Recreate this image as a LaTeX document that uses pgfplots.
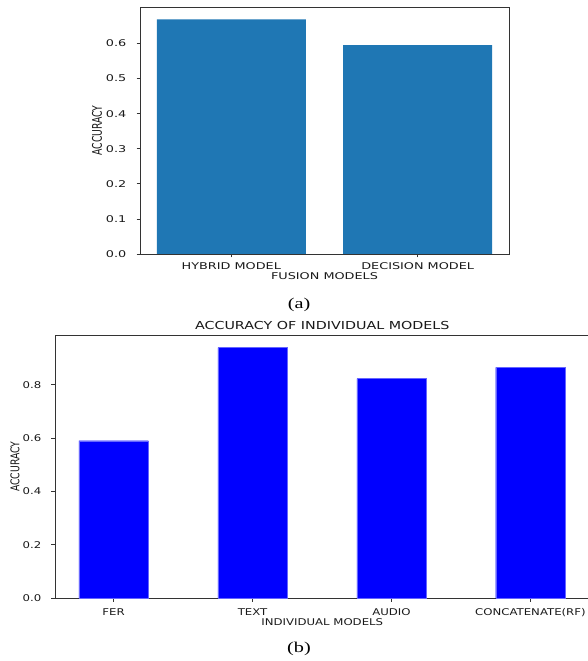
\documentclass[border=0pt]{standalone}
\usepackage{pgfplots}
\pgfplotsset{compat=1.18}
\usepackage{fontspec}
\setmainfont{DejaVu Sans}
\newfontfamily\capfont{Liberation Serif}
\usepackage{graphicx}
\definecolor{mplblue}{HTML}{1F77B4}
\pgfplotsset{
  /pgf/number format/assume math mode=true,
  base/.style={
    scale only axis, anchor=south west,
    axis line style={black!80, line width=0.8pt},
    tick style={black!80, line width=0.8pt},
    tick align=outside, major tick length=3.5pt,
    xtick pos=bottom, ytick pos=left,
    minor tick num=0,
    ymin=0,
    tick label style={font=\fontsize{9.3}{10}\selectfont, text=black!90, inner sep=0pt},
    label style={font=\fontsize{9.3}{10}\selectfont, text=black!90, inner sep=0pt},
    xticklabel style={anchor=center},
    yticklabel style={anchor=east},
  }
}
\begin{document}
\begin{tikzpicture}[x=1pt,y=1pt]
\useasboundingbox (0,0) rectangle (587,661);
% ---------- (a) ----------
\begin{axis}[base,
  at={(140pt,407pt)}, width=369pt, height=247pt,
  xmin=-0.49, xmax=1.49, ymax=0.704,
  xtick={0,1},
  xticklabels={{\scalebox{1.38}[1]{HYBRID MODEL}},{\scalebox{1.38}[1]{DECISION MODEL}}},
  ytick={0,0.1,0.2,0.3,0.4,0.5,0.6},
  yticklabel={\scalebox{1.38}[1]{\pgfmathprintnumber[fixed,precision=1,fixed zerofill]{\tick}}},
  xticklabel style={yshift=-9pt},
  yticklabel style={xshift=-10pt},
  xlabel={\scalebox{1.38}[1]{FUSION MODELS}},
  xlabel style={at={(axis description cs:0.5,0)}, anchor=center, yshift=-22pt},
  ylabel={\scalebox{1}[1.43]{ACCURACY}},
  ylabel style={at={(axis description cs:0,0.5)}, anchor=center, yshift=43pt},
]
\addplot[ybar, bar width=0.8, fill=mplblue, draw=none] coordinates {(0,0.669) (1,0.595)};
\end{axis}
% ---------- (b) ----------
\begin{axis}[base,
  at={(55pt,62.7pt)}, width=534.5pt, height=263.3pt,
  xmin=-0.422, xmax=3.425, ymax=0.986,
  xtick={0,1,2,3},
  xticklabels={{\scalebox{1.26}[1]{FER}},{\scalebox{1.26}[1]{TEXT}},{\scalebox{1.26}[1]{AUDIO}},{\scalebox{1.26}[1]{CONCATENATE(RF)}}},
  ytick={0,0.2,0.4,0.6,0.8},
  yticklabel={\scalebox{1.26}[1]{\pgfmathprintnumber[fixed,precision=1,fixed zerofill]{\tick}}},
  xticklabel style={yshift=-10.7pt},
  yticklabel style={xshift=-10pt},
  xlabel={\scalebox{1.26}[1]{INDIVIDUAL MODELS}},
  xlabel style={at={(axis description cs:0.5,0)}, anchor=center, yshift=-24pt},
  ylabel={\scalebox{1}[1.3]{ACCURACY}},
  ylabel style={at={(axis description cs:0,0.5)}, anchor=center, yshift=40pt},
  title={\scalebox{1.3}[1]{ACCURACY OF INDIVIDUAL MODELS}},
  title style={at={(axis description cs:0.5,1)}, anchor=center, yshift=3pt, inner sep=0pt, font=\fontsize{11}{12}\selectfont, text=black!90},
]
\addplot[ybar, bar width=0.5, fill=blue, draw=blue!60, line width=0.4pt] coordinates {(0,0.590) (1,0.9385) (2,0.8225) (3,0.865)};
\end{axis}
\node[font=\capfont\fontsize{15}{16}\selectfont, inner sep=0pt] at (299,356) {\scalebox{1.35}[1]{(a)}};
\node[font=\capfont\fontsize{15}{16}\selectfont, inner sep=0pt] at (299,12) {\scalebox{1.35}[1]{(b)}};
\end{tikzpicture}
\end{document}
